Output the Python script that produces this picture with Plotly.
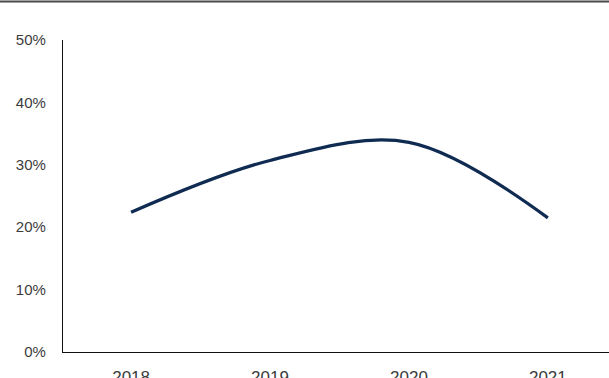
import plotly.graph_objects as go

# Annual share, 2018-2021
years = ["2018", "2019", "2020", "2021"]
share = [22.4, 30.7, 33.6, 21.5]
y_ticks = [0, 10, 20, 30, 40, 50]
y_tick_text = ["0%", "10%", "20%", "30%", "40%", "50%"]

W, H = 609, 378
ML, MR, MT, MB = 63, 0, 40, 26
plot_w = W - ML - MR
plot_h = H - MT - MB

fig = go.Figure()
fig.add_trace(go.Scatter(
    x=years, y=share, mode="lines",
    line=dict(color="#0f2b52", width=3.2, shape="spline", smoothing=1.0),
    hoverinfo="skip", showlegend=False,
))

y_font = dict(family="Liberation Sans, Arial, sans-serif", size=15, color="#3c3c3c")
x_font = dict(family="Liberation Sans, Arial, sans-serif", size=17, color="#3c3c3c")

fig.update_layout(
    width=W, height=H,
    margin=dict(l=ML, r=MR, t=MT, b=MB, pad=0),
    paper_bgcolor="white", plot_bgcolor="white",
    xaxis=dict(
        type="category", range=[-0.49, 3.44],
        showgrid=False, zeroline=False,
        showline=True, linecolor="#111111", linewidth=1.3,
        ticks="", tickfont=x_font, ticklabelstandoff=9,
        automargin=False, fixedrange=True,
    ),
    yaxis=dict(
        range=[0, 50], tickvals=y_ticks, ticktext=y_tick_text,
        showgrid=False, zeroline=False,
        showline=True, linecolor="#111111", linewidth=1.3,
        ticks="", tickfont=y_font, ticklabelstandoff=13,
        automargin=False, fixedrange=True,
    ),
    shapes=[dict(
        type="line", xref="paper", yref="paper",
        x0=-ML / plot_w, x1=1.0,
        y0=1 + (MT - 1.5) / plot_h, y1=1 + (MT - 1.5) / plot_h,
        line=dict(color="#4a4a4a", width=2.2),
    )],
)

fig.write_html("out.html")
